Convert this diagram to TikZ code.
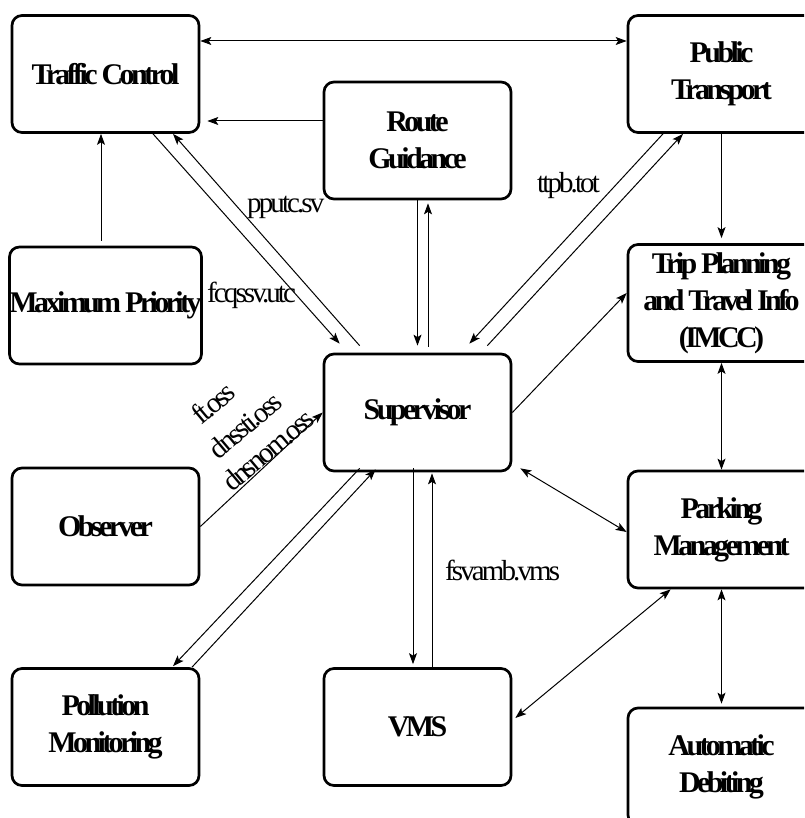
\documentclass[tikz,border=0pt]{standalone}
\usepackage{fontspec}
\setmainfont{Liberation Serif}
\newfontfamily\boxfont{Liberation Serif}[LetterSpace=-12]
\newfontfamily\lblfont{Liberation Serif}[LetterSpace=-10]
\usetikzlibrary{arrows.meta,calc}
\begin{document}
\begin{tikzpicture}[x=1pt,y=-1pt,
  box/.style={draw, line width=2.7pt, rounded corners=10pt, minimum width=187pt, minimum height=117pt, inner sep=0pt, align=center, font=\boxfont\bfseries\fontsize{30}{37}\selectfont},
  lbl/.style={font=\lblfont\fontsize{29}{34}\selectfont, inner sep=0pt},
  ah/.tip={Stealth[length=11pt,width=8pt,inset=2.5pt]},
  one/.style={line width=1pt, -ah},
  two/.style={line width=1pt, ah-ah}]
\useasboundingbox (0,0) rectangle (804,818);
\clip (0,0) rectangle (804,818);
\fill[white] (0,0) rectangle (804,818);
% boxes
\node[box] (tc) at (105.5,74) {Traffic Control};
\node[box] (rg) at (417.5,140.5) {Route\\Guidance};
\node[box] (pt) at (721.5,74) {Public\\Transport};
\node[box] (mp) at (105.5,305.5) {Maximum Priority};
\node[box] (sv) at (417.5,412.5) {Supervisor};
\node[box] (tp) at (721.5,303) {Trip Planning\\and Travel Info\\(IMCC)};
\node[box] (ob) at (105.5,526.5) {Observer};
\node[box] (pm) at (721.5,529.5) {Parking\\Management};
\node[box] (po) at (105.5,727) {Pollution\\Monitoring};
\node[box] (vms) at (417.5,727) {VMS};
\node[box] (ad) at (721.5,766.5) {Automatic\\Debiting};
% connectors
\draw[two] ($(tc.east)+(0,-33)$) -- ($(pt.west)+(0,-33)$);
\draw[one] ($(rg.west)+(0,-19.5)$) -- ($(tc.east)+(7,47)$);
\draw[one] ($(mp.north)+(-4.5,-5)$) -- ($(tc.south)+(-4.5,0)$);
\draw[one] ($(tc.south)+(47.5,0)$) -- ($(sv.north west)+(17,-9)$);
\draw[one] ($(sv.north west)+(37,-7)$) -- ($(tc.south)+(67.5,0)$);
\draw[one] (rg.south) -- ($(sv.north)+(0,-7)$);
\draw[one] ($(sv.north)+(10.5,-6)$) -- ($(rg.south)+(10.5,3)$);
\draw[one] ($(pt.south)+(-58.5,0)$) -- ($(sv.north east)+(-43,-9)$);
\draw[one] ($(sv.north east)+(-25,-7)$) -- ($(pt.south)+(-38.5,0)$);
\draw[one] (pt.south) -- ($(tp.north)+(0,-5)$);
\draw[one] (sv.east) -- ($(tp.west)+(0,-10)$);
\draw[two] (tp.south) -- (pm.north);
\draw[two] ($(sv.south east)+(8,-4)$) -- ($(pm.west)+(0,2.5)$);
\draw[two] ($(pm.south west)+(44,0)$) -- ($(vms.east)+(3,-9)$);
\draw[two] (pm.south) -- ($(ad.north)+(0,-3)$);
\draw[one] ($(sv.south)+(-4.5,-4)$) -- ($(vms.north)+(-4.5,-3)$);
\draw[one] ($(vms.north)+(14.5,0)$) -- ($(sv.south)+(14.5,1)$);
\draw[one] (ob.east) -- (sv.west);
\draw[one] ($(sv.south west)+(37,-4)$) -- ($(po.north)+(67.5,-1)$);
\draw[one] ($(po.north)+(86.5,0)$) -- ($(sv.south west)+(53,-3)$);
% labels
\node[lbl, anchor=base west] (l1) at (247,213) {pputc.sv};
\node[lbl, anchor=base west] (l2) at (207,302) {fcqssv.utc};
\node[lbl, anchor=base west] (l3) at (537,193) {ttpb.tot};
\node[lbl, anchor=base west] (l4) at (445,580) {fsvamb.vms};
\node[lbl, rotate=40] (l5) at (213,403) {ft.oss};
\node[lbl, rotate=40] (l6) at (245,425) {dnssti.oss};
\node[lbl, rotate=40] (l7) at (268,450) {dnsnom.oss};
\end{tikzpicture}
\end{document}
